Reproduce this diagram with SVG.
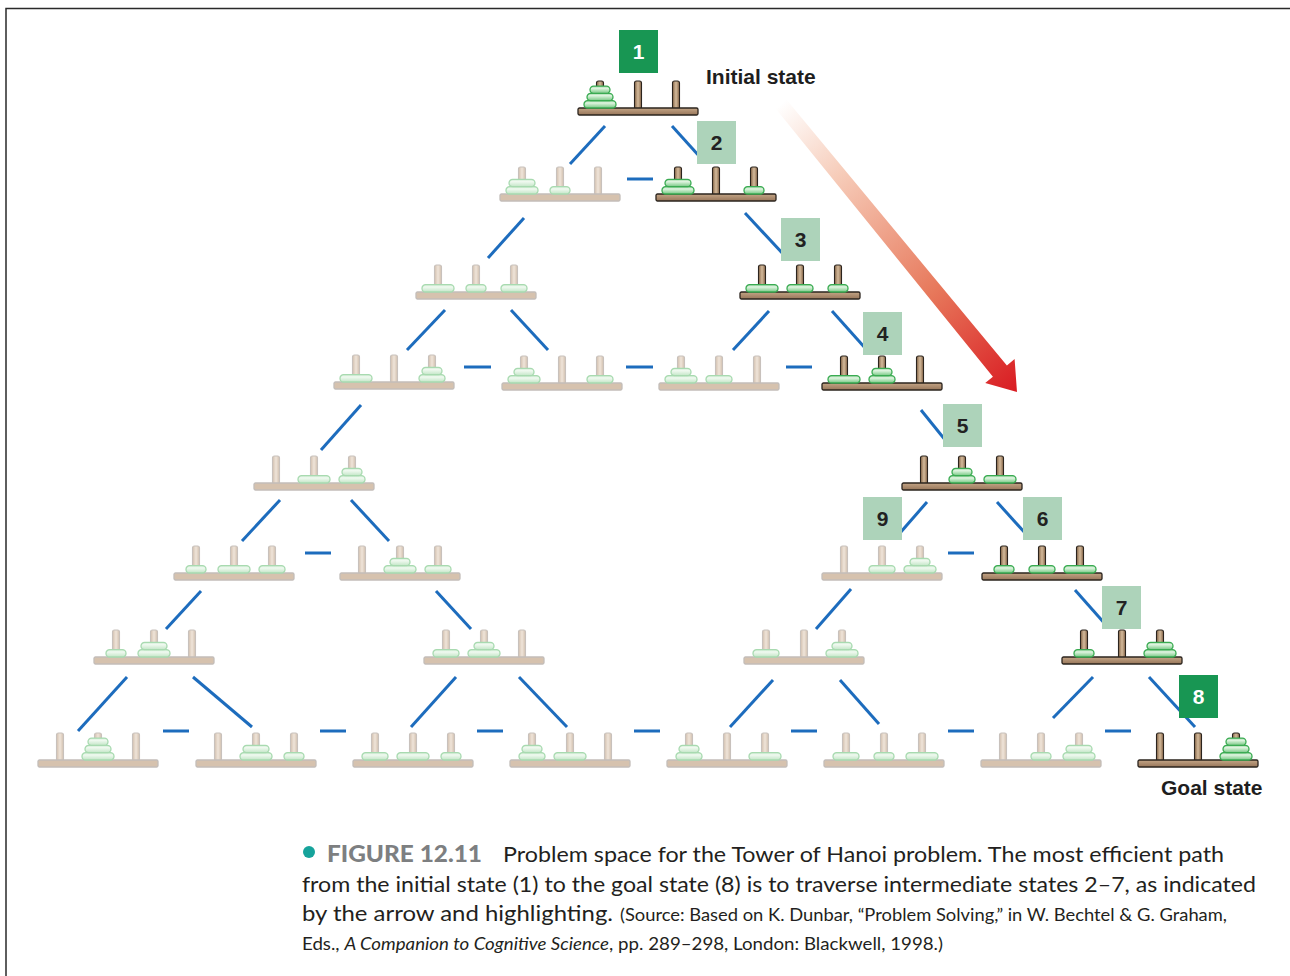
<svg xmlns="http://www.w3.org/2000/svg" xmlns:xlink="http://www.w3.org/1999/xlink" width="1290" height="976" viewBox="0 0 1290 976">
  <defs>
    <style>
      .disk-on { fill: url(#gDiskOn); stroke: #3aab52; stroke-width: 1.3; }
      .disk-off { fill: url(#gDiskOff); stroke: #a8dab0; stroke-width: 1.3; }
      .base-on { fill: url(#gWoodOn); stroke: #2b241e; stroke-width: 1.3; }
      .peg-on { fill: url(#gPegOn); stroke: #2b241e; stroke-width: 1.1; }
      .base-off { fill: #d6c2ae; stroke: #c3bdb9; stroke-width: 1.3; }
      .peg-off { fill: url(#gPegOff); stroke: #c8c1bc; stroke-width: 1.1; }
      .edge { stroke: #1d6cbd; stroke-width: 3; fill: none; }
      .tag-dark { fill: #189653; }
      .tag-light { fill: #add3ba; }
      .num { font-family: "Liberation Sans", Arial, sans-serif; font-weight: bold; font-size: 21px; text-anchor: middle; }
      .num-dark { fill: #ffffff; }
      .num-light { fill: #222222; }
      .state { font-family: "Liberation Sans", Arial, sans-serif; font-weight: bold; font-size: 21px; fill: #1e1e1e; }
      .cap { font-family: Lato, "Open Sans", sans-serif; font-size: 22px; fill: #231f20; }
      .cap-small { font-family: Lato, "Open Sans", sans-serif; font-size: 17px; fill: #231f20; }
      .fig { font-family: Lato, "Open Sans", sans-serif; font-size: 22px; font-weight: 900; fill: #7d7f81; }
    </style>
    <linearGradient id="gDiskOn" x1="0" y1="0" x2="0" y2="1">
      <stop offset="0" stop-color="#9ed8a5"/>
      <stop offset="0.3" stop-color="#e0f4e1"/>
      <stop offset="0.6" stop-color="#b2e2b8"/>
      <stop offset="1" stop-color="#78c685"/>
    </linearGradient>
    <linearGradient id="gDiskOff" x1="0" y1="0" x2="0" y2="1">
      <stop offset="0" stop-color="#d0edd4"/>
      <stop offset="0.3" stop-color="#f0f9f0"/>
      <stop offset="1" stop-color="#c3e6c7"/>
    </linearGradient>
    <linearGradient id="gWoodOn" x1="0" y1="0" x2="0" y2="1">
      <stop offset="0" stop-color="#c4a586"/>
      <stop offset="1" stop-color="#97765a"/>
    </linearGradient>
    <linearGradient id="gPegOn" x1="0" y1="0" x2="1" y2="0">
      <stop offset="0" stop-color="#876749"/>
      <stop offset="0.5" stop-color="#d4ba9b"/>
      <stop offset="1" stop-color="#876749"/>
    </linearGradient>
    <linearGradient id="gPegOff" x1="0" y1="0" x2="1" y2="0">
      <stop offset="0" stop-color="#d3c1af"/>
      <stop offset="0.5" stop-color="#efe4d9"/>
      <stop offset="1" stop-color="#d3c1af"/>
    </linearGradient>
    <linearGradient id="gArrow" gradientUnits="userSpaceOnUse" x1="781" y1="104" x2="1017" y2="392">
      <stop offset="0" stop-color="#ffffff"/>
      <stop offset="0.25" stop-color="#f6cbb8"/>
      <stop offset="0.65" stop-color="#e7785b"/>
      <stop offset="1" stop-color="#d91b22"/>
    </linearGradient>

    <!-- three-peg stands: base top sits at y=0, pegs centred at x=22, 60, 98 -->
    <g id="rig-on">
      <rect class="peg-on" x="18.5" y="-27" width="7" height="29" rx="2"/>
      <rect class="peg-on" x="56.5" y="-27" width="7" height="29" rx="2"/>
      <rect class="peg-on" x="94.5" y="-27" width="7" height="29" rx="2"/>
      <rect class="base-on" x="0" y="0" width="120" height="7" rx="1.5"/>
    </g>
    <g id="rig-off">
      <rect class="peg-off" x="18.5" y="-27" width="7" height="29" rx="2"/>
      <rect class="peg-off" x="56.5" y="-27" width="7" height="29" rx="2"/>
      <rect class="peg-off" x="94.5" y="-27" width="7" height="29" rx="2"/>
      <rect class="base-off" x="0" y="0" width="120" height="7" rx="1.5"/>
    </g>

    <!-- disks: centred on x=0, bottom edge on y=0 -->
    <rect id="L-on" class="disk-on" x="-16" y="-7.3" width="32" height="7.3" rx="3.6"/>
    <rect id="M-on" class="disk-on" x="-13" y="-7.3" width="26" height="7.3" rx="3.6"/>
    <rect id="S-on" class="disk-on" x="-10" y="-7.3" width="20" height="7.3" rx="3.6"/>
    <rect id="L-off" class="disk-off" x="-16" y="-7.3" width="32" height="7.3" rx="3.6"/>
    <rect id="M-off" class="disk-off" x="-13" y="-7.3" width="26" height="7.3" rx="3.6"/>
    <rect id="S-off" class="disk-off" x="-10" y="-7.3" width="20" height="7.3" rx="3.6"/>
  </defs>

  <rect x="0" y="0" width="1290" height="976" fill="#ffffff"/>
  <path d="M6,976 V8.5 H1290" fill="none" stroke="#2a2a2a" stroke-width="1.5"/>

  <!-- moves between states -->
  <g id="connectors">
    <line class="edge" x1="605" y1="126" x2="570" y2="164"/>
    <line class="edge" x1="672" y1="126" x2="700" y2="157"/>
    <line class="edge" x1="627" y1="179" x2="653" y2="179"/>
    <line class="edge" x1="524" y1="218" x2="488" y2="258"/>
    <line class="edge" x1="745" y1="213" x2="785" y2="256"/>
    <line class="edge" x1="445" y1="310" x2="407" y2="350"/>
    <line class="edge" x1="511" y1="310" x2="548" y2="350"/>
    <line class="edge" x1="769" y1="311" x2="733" y2="350"/>
    <line class="edge" x1="832" y1="311" x2="866" y2="349"/>
    <line class="edge" x1="464" y1="367" x2="491" y2="367"/>
    <line class="edge" x1="626" y1="367" x2="653" y2="367"/>
    <line class="edge" x1="786" y1="367" x2="812" y2="367"/>
    <line class="edge" x1="361" y1="405" x2="321" y2="450"/>
    <line class="edge" x1="921" y1="410" x2="946" y2="441"/>
    <line class="edge" x1="280" y1="500" x2="242" y2="541"/>
    <line class="edge" x1="351" y1="500" x2="389" y2="541"/>
    <line class="edge" x1="927" y1="502" x2="900" y2="533"/>
    <line class="edge" x1="997" y1="502" x2="1026" y2="534"/>
    <line class="edge" x1="305" y1="553" x2="331" y2="553"/>
    <line class="edge" x1="948" y1="553" x2="974" y2="553"/>
    <line class="edge" x1="201" y1="591" x2="166" y2="629"/>
    <line class="edge" x1="436" y1="591" x2="471" y2="629"/>
    <line class="edge" x1="851" y1="589" x2="816" y2="629"/>
    <line class="edge" x1="1075" y1="590" x2="1106" y2="625"/>
    <line class="edge" x1="127" y1="677" x2="78" y2="731"/>
    <line class="edge" x1="193" y1="677" x2="252" y2="727"/>
    <line class="edge" x1="456" y1="677" x2="411" y2="727"/>
    <line class="edge" x1="519" y1="677" x2="567" y2="727"/>
    <line class="edge" x1="773" y1="680" x2="730" y2="727"/>
    <line class="edge" x1="840" y1="680" x2="879" y2="724"/>
    <line class="edge" x1="1093" y1="677" x2="1053" y2="718"/>
    <line class="edge" x1="1149" y1="677" x2="1195" y2="727"/>
    <line class="edge" x1="163" y1="731" x2="189" y2="731"/>
    <line class="edge" x1="320" y1="731" x2="346" y2="731"/>
    <line class="edge" x1="477" y1="731" x2="503" y2="731"/>
    <line class="edge" x1="634" y1="731" x2="660" y2="731"/>
    <line class="edge" x1="791" y1="731" x2="817" y2="731"/>
    <line class="edge" x1="948" y1="731" x2="974" y2="731"/>
    <line class="edge" x1="1105" y1="731" x2="1131" y2="731"/>
  </g>

  <!-- solution path arrow -->
  <polygon id="path-arrow" fill="url(#gArrow)" points="786.4,99.6 1006.9,365.4 1014.6,359.1 1017,392 985.2,383.1 992.9,376.8 775.6,108.4"/>

  <!-- states on the shortest path -->
  <g id="state-1" transform="translate(578,108)">
    <use href="#rig-on"/>
    <use href="#L-on" x="22" y="0"/><use href="#M-on" x="22" y="-7.3"/><use href="#S-on" x="22" y="-14.6"/>
  </g>
  <g id="state-2" transform="translate(656,194)">
    <use href="#rig-on"/>
    <use href="#L-on" x="22" y="0"/><use href="#M-on" x="22" y="-7.3"/><use href="#S-on" x="98" y="0"/>
  </g>
  <g id="state-3" transform="translate(740,292)">
    <use href="#rig-on"/>
    <use href="#L-on" x="22" y="0"/><use href="#M-on" x="60" y="0"/><use href="#S-on" x="98" y="0"/>
  </g>
  <g id="state-4" transform="translate(822,383)">
    <use href="#rig-on"/>
    <use href="#L-on" x="22" y="0"/><use href="#M-on" x="60" y="0"/><use href="#S-on" x="60" y="-7.3"/>
  </g>
  <g id="state-5" transform="translate(902,483)">
    <use href="#rig-on"/>
    <use href="#M-on" x="60" y="0"/><use href="#S-on" x="60" y="-7.3"/><use href="#L-on" x="98" y="0"/>
  </g>
  <g id="state-6" transform="translate(982,573)">
    <use href="#rig-on"/>
    <use href="#S-on" x="22" y="0"/><use href="#M-on" x="60" y="0"/><use href="#L-on" x="98" y="0"/>
  </g>
  <g id="state-7" transform="translate(1062,657)">
    <use href="#rig-on"/>
    <use href="#S-on" x="22" y="0"/><use href="#L-on" x="98" y="0"/><use href="#M-on" x="98" y="-7.3"/>
  </g>
  <g id="state-8" transform="translate(1138,760)">
    <use href="#rig-on"/>
    <use href="#L-on" x="98" y="0"/><use href="#M-on" x="98" y="-7.3"/><use href="#S-on" x="98" y="-14.6"/>
  </g>

  <!-- remaining states -->
  <g id="state-r2a" transform="translate(500,194)">
    <use href="#rig-off"/>
    <use href="#L-off" x="22" y="0"/><use href="#M-off" x="22" y="-7.3"/><use href="#S-off" x="60" y="0"/>
  </g>
  <g id="state-r3a" transform="translate(416,292)">
    <use href="#rig-off"/>
    <use href="#L-off" x="22" y="0"/><use href="#S-off" x="60" y="0"/><use href="#M-off" x="98" y="0"/>
  </g>
  <g id="state-r4a" transform="translate(334,382)">
    <use href="#rig-off"/>
    <use href="#L-off" x="22" y="0"/><use href="#M-off" x="98" y="0"/><use href="#S-off" x="98" y="-7.3"/>
  </g>
  <g id="state-r4b" transform="translate(502,383)">
    <use href="#rig-off"/>
    <use href="#L-off" x="22" y="0"/><use href="#S-off" x="22" y="-7.3"/><use href="#M-off" x="98" y="0"/>
  </g>
  <g id="state-r4c" transform="translate(659,383)">
    <use href="#rig-off"/>
    <use href="#L-off" x="22" y="0"/><use href="#S-off" x="22" y="-7.3"/><use href="#M-off" x="60" y="0"/>
  </g>
  <g id="state-r5a" transform="translate(254,483)">
    <use href="#rig-off"/>
    <use href="#L-off" x="60" y="0"/><use href="#M-off" x="98" y="0"/><use href="#S-off" x="98" y="-7.3"/>
  </g>
  <g id="state-r6a" transform="translate(174,573)">
    <use href="#rig-off"/>
    <use href="#S-off" x="22" y="0"/><use href="#L-off" x="60" y="0"/><use href="#M-off" x="98" y="0"/>
  </g>
  <g id="state-r6b" transform="translate(340,573)">
    <use href="#rig-off"/>
    <use href="#L-off" x="60" y="0"/><use href="#S-off" x="60" y="-7.3"/><use href="#M-off" x="98" y="0"/>
  </g>
  <g id="state-9" transform="translate(822,573)">
    <use href="#rig-off"/>
    <use href="#M-off" x="60" y="0"/><use href="#L-off" x="98" y="0"/><use href="#S-off" x="98" y="-7.3"/>
  </g>
  <g id="state-r7a" transform="translate(94,657)">
    <use href="#rig-off"/>
    <use href="#S-off" x="22" y="0"/><use href="#L-off" x="60" y="0"/><use href="#M-off" x="60" y="-7.3"/>
  </g>
  <g id="state-r7b" transform="translate(424,657)">
    <use href="#rig-off"/>
    <use href="#M-off" x="22" y="0"/><use href="#L-off" x="60" y="0"/><use href="#S-off" x="60" y="-7.3"/>
  </g>
  <g id="state-r7c" transform="translate(744,657)">
    <use href="#rig-off"/>
    <use href="#M-off" x="22" y="0"/><use href="#L-off" x="98" y="0"/><use href="#S-off" x="98" y="-7.3"/>
  </g>
  <g id="state-r8a" transform="translate(38,760)">
    <use href="#rig-off"/>
    <use href="#L-off" x="60" y="0"/><use href="#M-off" x="60" y="-7.3"/><use href="#S-off" x="60" y="-14.6"/>
  </g>
  <g id="state-r8b" transform="translate(196,760)">
    <use href="#rig-off"/>
    <use href="#L-off" x="60" y="0"/><use href="#M-off" x="60" y="-7.3"/><use href="#S-off" x="98" y="0"/>
  </g>
  <g id="state-r8c" transform="translate(353,760)">
    <use href="#rig-off"/>
    <use href="#M-off" x="22" y="0"/><use href="#L-off" x="60" y="0"/><use href="#S-off" x="98" y="0"/>
  </g>
  <g id="state-r8d" transform="translate(510,760)">
    <use href="#rig-off"/>
    <use href="#M-off" x="22" y="0"/><use href="#S-off" x="22" y="-7.3"/><use href="#L-off" x="60" y="0"/>
  </g>
  <g id="state-r8e" transform="translate(667,760)">
    <use href="#rig-off"/>
    <use href="#M-off" x="22" y="0"/><use href="#S-off" x="22" y="-7.3"/><use href="#L-off" x="98" y="0"/>
  </g>
  <g id="state-r8f" transform="translate(824,760)">
    <use href="#rig-off"/>
    <use href="#M-off" x="22" y="0"/><use href="#S-off" x="60" y="0"/><use href="#L-off" x="98" y="0"/>
  </g>
  <g id="state-r8g" transform="translate(981,760)">
    <use href="#rig-off"/>
    <use href="#S-off" x="60" y="0"/><use href="#L-off" x="98" y="0"/><use href="#M-off" x="98" y="-7.3"/>
  </g>

  <!-- step numbers -->
  <g id="tags">
    <rect class="tag-dark" x="619" y="30" width="39" height="43"/>
    <text class="num num-dark" x="638.5" y="59">1</text>
    <rect class="tag-light" x="697" y="121" width="39" height="43"/>
    <text class="num num-light" x="716.5" y="150">2</text>
    <rect class="tag-light" x="781" y="218" width="39" height="43"/>
    <text class="num num-light" x="800.5" y="247">3</text>
    <rect class="tag-light" x="863" y="312" width="39" height="43"/>
    <text class="num num-light" x="882.5" y="341">4</text>
    <rect class="tag-light" x="943" y="404" width="39" height="43"/>
    <text class="num num-light" x="962.5" y="433">5</text>
    <rect class="tag-light" x="1023" y="497" width="39" height="43"/>
    <text class="num num-light" x="1042.5" y="526">6</text>
    <rect class="tag-light" x="1102" y="586" width="39" height="43"/>
    <text class="num num-light" x="1121.5" y="615">7</text>
    <rect class="tag-dark" x="1179" y="675" width="39" height="43"/>
    <text class="num num-dark" x="1198.5" y="704">8</text>
    <rect class="tag-light" x="863" y="497" width="39" height="43"/>
    <text class="num num-light" x="882.5" y="526">9</text>
  </g>

  <text class="state" x="706" y="84">Initial state</text>
  <text class="state" x="1161" y="795">Goal state</text>

  <!-- caption -->
  <g id="caption">
    <circle cx="309" cy="852" r="6" fill="#16a39b"/>
    <text class="fig" x="327" y="862" textLength="155" lengthAdjust="spacingAndGlyphs">FIGURE 12.11</text>
    <text class="cap" x="503" y="862" textLength="721" lengthAdjust="spacingAndGlyphs">Problem space for the Tower of Hanoi problem. The most efficient path</text>
    <text class="cap" x="302" y="892" textLength="954" lengthAdjust="spacingAndGlyphs">from the initial state (1) to the goal state (8) is to traverse intermediate states 2–7, as indicated</text>
    <text class="cap" x="302" y="921" textLength="311" lengthAdjust="spacingAndGlyphs">by the arrow and highlighting.</text>
    <text class="cap-small" x="620" y="921" textLength="607" lengthAdjust="spacingAndGlyphs">(Source: Based on K. Dunbar, “Problem Solving,” in W. Bechtel &amp; G. Graham,</text>
    <text class="cap-small" x="302" y="950" textLength="641" lengthAdjust="spacingAndGlyphs">Eds., <tspan font-style="italic">A Companion to Cognitive Science</tspan>, pp. 289–298, London: Blackwell, 1998.)</text>
  </g>
</svg>
